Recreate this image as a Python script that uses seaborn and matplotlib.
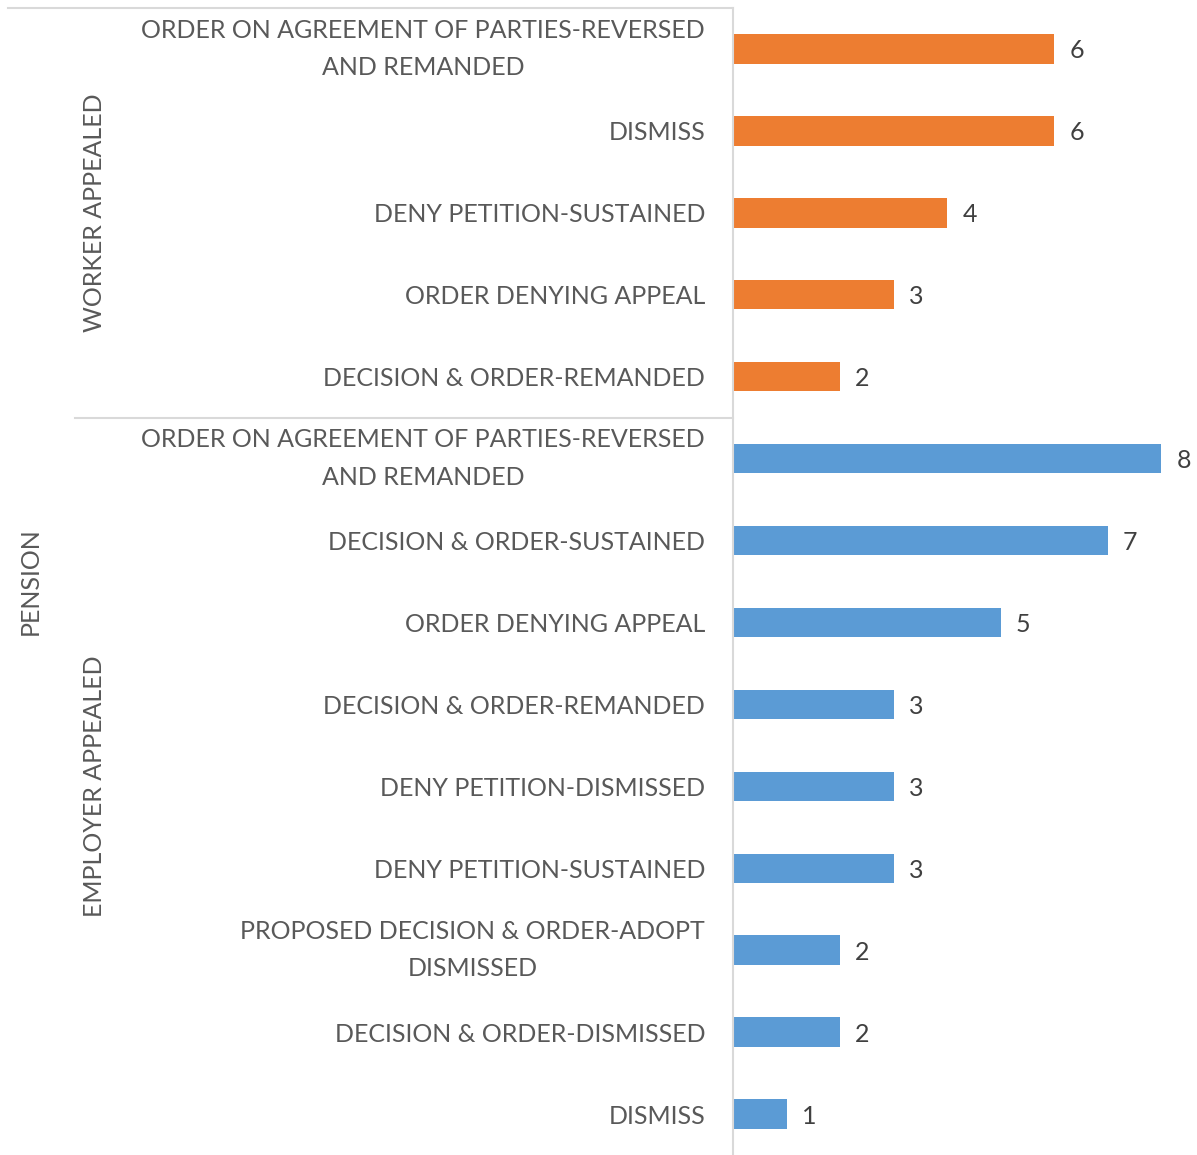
import pandas as pd
import matplotlib
matplotlib.use("Agg")
import matplotlib.pyplot as plt
import matplotlib.transforms as mtransforms
import seaborn as sns

# Data
groups = ["WORKER APPEALED"] * 5 + ["EMPLOYER APPEALED"] * 9
outcomes = [
    "ORDER ON AGREEMENT OF PARTIES-REVERSED\nAND REMANDED",
    "DISMISS",
    "DENY PETITION-SUSTAINED",
    "ORDER DENYING APPEAL",
    "DECISION & ORDER-REMANDED",
    "ORDER ON AGREEMENT OF PARTIES-REVERSED\nAND REMANDED",
    "DECISION & ORDER-SUSTAINED",
    "ORDER DENYING APPEAL",
    "DECISION & ORDER-REMANDED",
    "DENY PETITION-DISMISSED",
    "DENY PETITION-SUSTAINED",
    "PROPOSED DECISION & ORDER-ADOPT\nDISMISSED",
    "DECISION & ORDER-DISMISSED",
    "DISMISS",
]
counts = [6, 6, 4, 3, 2, 8, 7, 5, 3, 3, 3, 2, 2, 1]
top_label = "PENSION"

df = pd.DataFrame({"group": groups, "outcome": outcomes, "count": counts})
df["key"] = [f"{i}|{o}" for i, o in enumerate(outcomes)]

plt.rcParams["font.family"] = ["Lato", "DejaVu Sans"]
text_color = "#595959"
line_color = "#d9d9d9"
fs = 18

fig = plt.figure(figsize=(11.97, 11.55), dpi=100)
ax = fig.add_axes([733 / 1197, 0, 1 - 733 / 1197, 1 - 8 / 1155])

sns.barplot(
    data=df, x="count", y="key", hue="group", orient="h",
    palette={"WORKER APPEALED": "#ED7D31", "EMPLOYER APPEALED": "#5B9BD5"},
    dodge=False, width=0.36, saturation=1, legend=False, ax=ax,
)

for c in ax.containers:
    labels = ax.bar_label(c, padding=11, fontsize=fs, color="#404040")
    for t in labels:
        t.set_va("center_baseline")

ax.set_xlim(0, 8.67)
ax.set_ylim(13.5, -0.5)
ax.set_xlabel("")
ax.set_ylabel("")
ax.set_xticks([])
ax.set_yticks(range(len(outcomes)))
ax.set_yticklabels(outcomes, fontsize=fs, color=text_color,
                   multialignment="center", linespacing=1.75)
for t in ax.get_yticklabels():
    if "\n" in t.get_text():
        t.set_va("center")
ax.tick_params(axis="y", length=0, pad=20)
for s in ["top", "right", "bottom"]:
    ax.spines[s].set_visible(False)
ax.spines["left"].set_color(line_color)
ax.spines["left"].set_linewidth(1.5)

# group dividers and labels outside the axes
tr = mtransforms.blended_transform_factory(fig.transFigure, ax.transData)
ax.plot([8 / 1197, 733 / 1197], [-0.5, -0.5], transform=tr, color=line_color,
        lw=1.5, clip_on=False)
ax.plot([75 / 1197, 733 / 1197], [4.5, 4.5], transform=tr, color=line_color,
        lw=1.5, clip_on=False)
ax.text(95 / 1197, 2, "WORKER APPEALED", transform=tr, rotation=90,
        ha="center", va="center", fontsize=fs, color=text_color)
ax.text(95 / 1197, 9, "EMPLOYER APPEALED", transform=tr, rotation=90,
        ha="center", va="center", fontsize=fs, color=text_color)
ax.text(30 / 1197, 6.5, top_label, transform=tr, rotation=90,
        ha="center", va="center", fontsize=fs, color=text_color)

fig.savefig("out.png", dpi=100)
